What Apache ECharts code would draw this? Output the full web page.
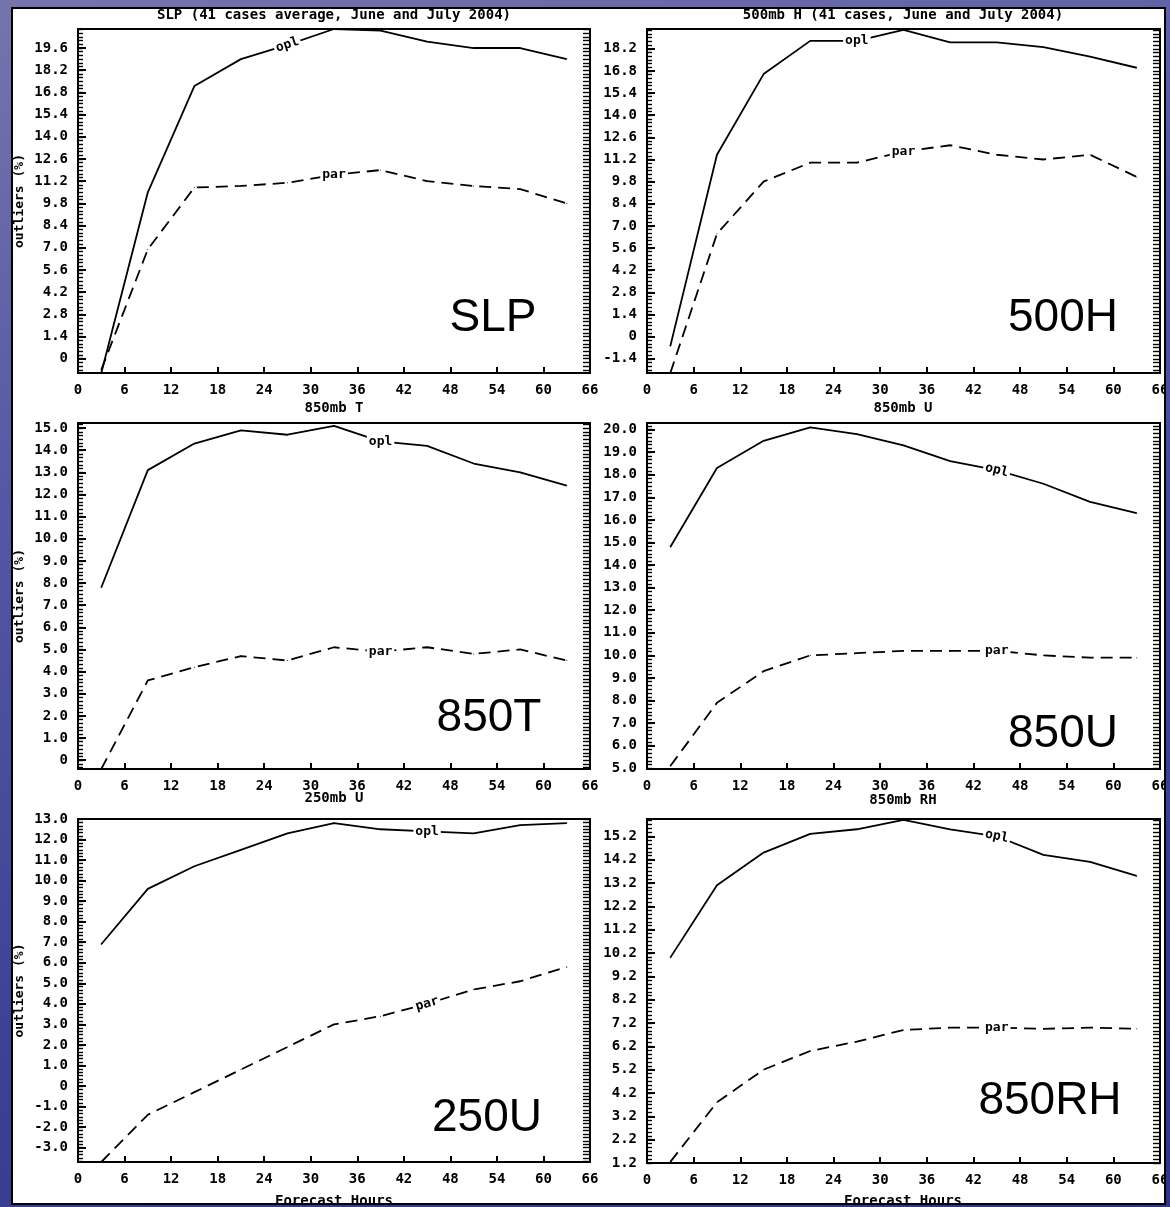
<!DOCTYPE html>
<html>
<head>
<meta charset="UTF-8"/>
<title>outliers</title>
<script src="https://cdn.jsdelivr.net/npm/echarts@6/dist/echarts.min.js"></script>
<style>
    html, body { margin: 0; padding: 0; width: 1170px; height: 1207px; overflow: hidden; }
    body { background: linear-gradient(165deg, #7674ad 0%, #5256a3 35%, #3c4195 70%, #30358a 100%); }
    #main { position: absolute; left: 11px; top: 7px; width: 1155px; height: 1198px;
            background: #fff; border: 2px solid #000; box-sizing: border-box; }
</style>
</head>
<body>
<div id="main"></div>
<script>
// forecast hours (x) and tick labels
var hours = [3, 9, 15, 21, 27, 33, 39, 45, 51, 57, 63];
var hourTicks = [0, 6, 12, 18, 24, 30, 36, 42, 48, 54, 60, 66];

// SLP
var slpOpl = [-0.9, 10.5, 17.2, 18.9, 19.8, 20.8, 20.7, 20.0, 19.6, 19.6, 18.9];
var slpPar = [-0.7, 6.9, 10.8, 10.9, 11.1, 11.6, 11.9, 11.2, 10.9, 10.7, 9.8];
var slpRange = [-0.9, 20.8];
var slpTicks = [0, 1.4, 2.8, 4.2, 5.6, 7.0, 8.4, 9.8, 11.2, 12.6, 14.0, 15.4, 16.8, 18.2, 19.6];

// 500mb H
var h500Opl = [-0.6, 11.5, 16.6, 18.7, 18.7, 19.4, 18.6, 18.6, 18.3, 17.7, 17.0];
var h500Par = [-2.3, 6.5, 9.8, 11.0, 11.0, 11.7, 12.1, 11.5, 11.2, 11.5, 10.1];
var h500Range = [-2.3, 19.45];
var h500Ticks = [-1.4, 0, 1.4, 2.8, 4.2, 5.6, 7.0, 8.4, 9.8, 11.2, 12.6, 14.0, 15.4, 16.8, 18.2];

// 850mb T
var t850Opl = [7.8, 13.1, 14.3, 14.9, 14.7, 15.1, 14.4, 14.2, 13.4, 13.0, 12.4];
var t850Par = [-0.4, 3.6, 4.2, 4.7, 4.5, 5.1, 4.9, 5.1, 4.8, 5.0, 4.5];
var t850Range = [-0.4, 15.23];
var t850Ticks = [0, 1, 2, 3, 4, 5, 6, 7, 8, 9, 10, 11, 12, 13, 14, 15];

// 850mb U
var u850Opl = [14.8, 18.3, 19.5, 20.1, 19.8, 19.3, 18.6, 18.2, 17.6, 16.8, 16.3];
var u850Par = [5.1, 7.9, 9.3, 10.0, 10.1, 10.2, 10.2, 10.2, 10.0, 9.9, 9.9];
var u850Range = [4.97, 20.29];
var u850Ticks = [5, 6, 7, 8, 9, 10, 11, 12, 13, 14, 15, 16, 17, 18, 19, 20];

// 250mb U
var u250Opl = [6.9, 9.6, 10.7, 11.5, 12.3, 12.8, 12.5, 12.4, 12.3, 12.7, 12.8];
var u250Par = [-3.7, -1.4, -0.3, 0.8, 1.9, 3.0, 3.4, 4.0, 4.7, 5.1, 5.8];
var u250Range = [-3.7, 13.0];
var u250Ticks = [-3, -2, -1, 0, 1, 2, 3, 4, 5, 6, 7, 8, 9, 10, 11, 12, 13];

// 850mb RH
var rh850Opl = [10.0, 13.1, 14.5, 15.3, 15.5, 15.9, 15.5, 15.2, 14.4, 14.1, 13.5];
var rh850Par = [1.25, 3.8, 5.2, 6.0, 6.4, 6.9, 7.0, 7.0, 6.95, 7.0, 6.95];
var rh850Range = [1.2, 15.94];
var rh850Ticks = [1.2, 2.2, 3.2, 4.2, 5.2, 6.2, 7.2, 8.2, 9.2, 10.2, 11.2, 12.2, 13.2, 14.2, 15.2];

var panelNames = ['SLP', '500H', '850T', '850U', '250U', '850RH'];
var panelTitles = ['SLP (41 cases average, June and July 2004)', '500mb H (41 cases, June and July 2004)',
    '850mb T', '850mb U', '250mb U', '850mb RH'];

var FONT = '"DejaVu Sans Mono", monospace';

// layout (chart pixels)
var layout = [
    {grid: {left: 65, top: 20, width: 512, height: 344}, title: [321, 6], big: [480, 309], lab: {opl: [4, [-6, 5], 18], par: [5, [18, 0], 0]}},
    {grid: {left: 634, top: 20, width: 513, height: 344}, title: [890, 6], big: [1050, 309], lab: {opl: [4, [-4, 1], 0], par: [5, [6, 0], 0]}},
    {grid: {left: 65, top: 414, width: 512, height: 346}, title: [321, 399], big: [476, 709], lab: {opl: [6, [10, 3], 0], par: [6, [27, 3], 0]}},
    {grid: {left: 634, top: 414, width: 513, height: 346}, title: [890, 399], big: [1050, 725], lab: {opl: [7, [-7, 3], -14], par: [7, [-7, 5], 0]}},
    {grid: {left: 65, top: 810, width: 512, height: 343}, title: [321, 789], big: [474, 1109], lab: {opl: [7, [15, 3], 0], par: [7, [-8, 5], 16]}},
    {grid: {left: 634, top: 810, width: 513, height: 344}, title: [890, 791], big: [1037, 1092], lab: {opl: [7, [-3, 6], -12], par: [7, [-7, 4], 0]}}
];

var panels = [
    {opl: slpOpl, par: slpPar, range: slpRange, ticks: slpTicks},
    {opl: h500Opl, par: h500Par, range: h500Range, ticks: h500Ticks},
    {opl: t850Opl, par: t850Par, range: t850Range, ticks: t850Ticks},
    {opl: u850Opl, par: u850Par, range: u850Range, ticks: u850Ticks},
    {opl: u250Opl, par: u250Par, range: u250Range, ticks: u250Ticks},
    {opl: rh850Opl, par: rh850Par, range: rh850Range, ticks: rh850Ticks}
];

function fmt(v) { return v === 0 ? '0' : v.toFixed(1); }

// fine ladder ticks, six per major step
function denseTicks(ticks, lo, hi) {
    var s = (ticks[1] - ticks[0]) / 6;
    var v = ticks[0];
    while (v - s >= lo) v -= s;
    var out = [];
    for (; v <= hi + 1e-9; v += s) out.push(+v.toFixed(4));
    return out;
}

function lineData(vals, lab, text) {
    return hours.map(function (h, i) {
        var d = {value: [h, vals[i]]};
        if (i === lab[0]) {
            d.label = {
                show: true, formatter: text, position: 'inside', offset: lab[1], rotate: lab[2],
                backgroundColor: '#fff', padding: [0, 2], color: '#000',
                fontFamily: FONT, fontSize: 13, fontWeight: 'bold'
            };
        }
        return d;
    });
}

function txt(s, x, y, font, rot) {
    return {
        type: 'text', x: x, y: y, rotation: rot || 0, silent: true, z: 100,
        style: {text: s, font: font, fill: '#000', align: 'center', verticalAlign: 'middle',
                textAlign: 'center', textVerticalAlign: 'middle'}
    };
}

var grids = [], xAxes = [], yAxes = [], series = [], graphics = [];
var lineW = 2;

panels.forEach(function (p, k) {
    var L = layout[k];
    var g = L.grid;
    grids.push({left: g.left, top: g.top, width: g.width, height: g.height, show: true,
                borderColor: '#000', borderWidth: 2, backgroundColor: 'transparent',
                containLabel: false, outerBoundsMode: 'none'});

    xAxes.push({
        type: 'value', gridIndex: k, min: 0, max: 66, interval: 6,
        axisLine: {show: true, onZero: false, lineStyle: {color: '#000', width: lineW}},
        axisTick: {show: true, inside: true, length: 6, customValues: hourTicks, lineStyle: {color: '#000', width: 2}},
        axisLabel: {show: true, customValues: hourTicks, margin: 10, color: '#000', fontFamily: FONT,
                    fontSize: 14, fontWeight: 'bold', hideOverlap: false, showMinLabel: true, showMaxLabel: true},
        splitLine: {show: false}
    });

    var dense = denseTicks(p.ticks, p.range[0], p.range[1]);
    yAxes.push({
        type: 'value', gridIndex: k, position: 'left', min: p.range[0], max: p.range[1],
        axisLine: {show: true, onZero: false, lineStyle: {color: '#000', width: lineW}},
        axisTick: {show: true, inside: true, length: 8, customValues: p.ticks, lineStyle: {color: '#000', width: 2}},
        axisLabel: {show: true, customValues: p.ticks, formatter: fmt, margin: 10, color: '#000',
                    fontFamily: FONT, fontSize: 14, fontWeight: 'bold', hideOverlap: false},
        splitLine: {show: false}
    });
    yAxes.push({
        type: 'value', gridIndex: k, position: 'left', min: p.range[0], max: p.range[1],
        axisLine: {show: false, onZero: false},
        axisTick: {show: true, inside: true, length: 5, customValues: dense, lineStyle: {color: '#000', width: 1.4}},
        axisLabel: {show: false}, splitLine: {show: false}
    });
    yAxes.push({
        type: 'value', gridIndex: k, position: 'right', min: p.range[0], max: p.range[1],
        axisLine: {show: true, onZero: false, lineStyle: {color: '#000', width: lineW}},
        axisTick: {show: true, inside: true, length: 7, customValues: dense, lineStyle: {color: '#000', width: 1.4}},
        axisLabel: {show: false}, splitLine: {show: false}
    });

    var common = {
        type: 'line', xAxisIndex: k, yAxisIndex: k * 3, showSymbol: true, symbol: 'circle', symbolSize: 1,
        itemStyle: {color: '#000'}, silent: true, emphasis: {disabled: true}, z: 3,
        labelLayout: {hideOverlap: false}
    };
    series.push(Object.assign({}, common, {
        name: 'opl', data: lineData(p.opl, L.lab.opl, 'opl'),
        lineStyle: {color: '#000', width: 1.8, type: 'solid'}
    }));
    series.push(Object.assign({}, common, {
        name: 'par', data: lineData(p.par, L.lab.par, 'par'),
        lineStyle: {color: '#000', width: 1.8, type: [12, 7]}
    }));

    graphics.push(txt(panelTitles[k], L.title[0], L.title[1], 'bold 14px ' + FONT));
    graphics.push(txt(panelNames[k], L.big[0], L.big[1], '46px "Liberation Sans", Arial, sans-serif'));
    if (k % 2 === 0) {
        graphics.push(txt('outliers (%)', 7, g.top + g.height / 2, 'bold 13px ' + FONT, Math.PI / 2));
    }
});

graphics.push(txt('Forecast Hours', 321, 1192, 'bold 14px ' + FONT));
graphics.push(txt('Forecast Hours', 890, 1192, 'bold 14px ' + FONT));

var chart = echarts.init(document.getElementById('main'), null, {renderer: 'canvas'});
chart.setOption({
    animation: false,
    backgroundColor: '#fff',
    grid: grids,
    xAxis: xAxes,
    yAxis: yAxes,
    series: series,
    graphic: graphics
});
</script>
</body>
</html>
